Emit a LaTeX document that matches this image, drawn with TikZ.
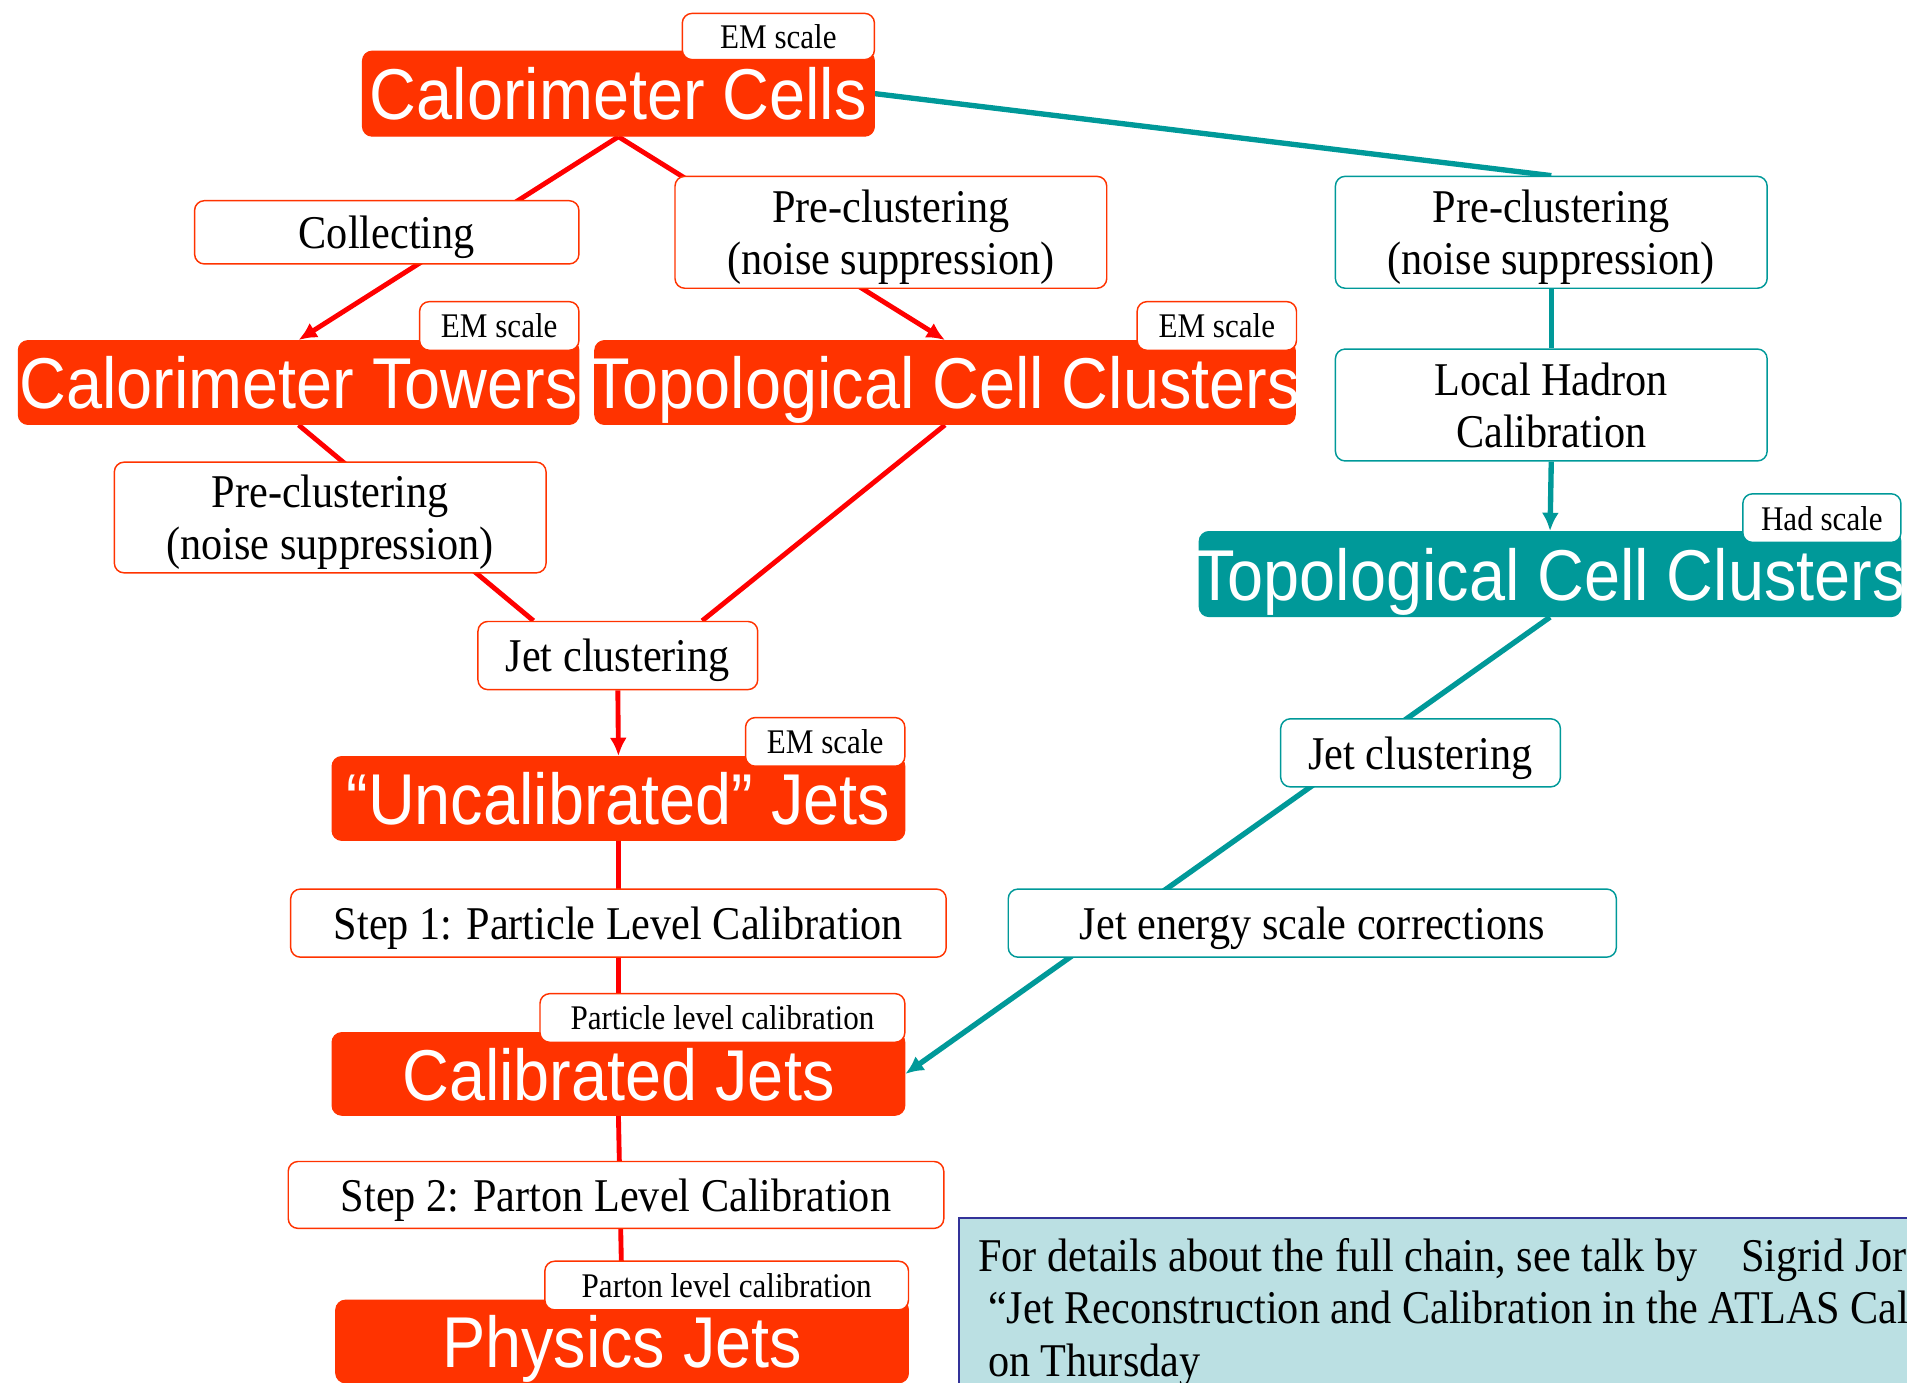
\documentclass[tikz,border=0pt]{standalone}
\usepackage{fontspec}
\setmainfont[FakeStretch=0.9]{Liberation Serif}
\newfontfamily\headfont[FakeStretch=0.9]{Liberation Sans}
\usetikzlibrary{arrows.meta}
\usetikzlibrary{calc}
\pgfdeclarelayer{background}
\pgfsetlayers{background,main}

\definecolor{boxred}{RGB}{255,51,0}
\definecolor{linered}{RGB}{255,0,0}
\definecolor{hadteal}{RGB}{0,153,153}
\definecolor{notefill}{RGB}{187,224,227}
\definecolor{noteline}{RGB}{51,51,153}

\tikzset{
  bigbox/.style={fill=boxred, draw=boxred, rounded corners=4pt, text=white, inner sep=0pt, text height=21.5pt, text depth=0pt, font=\headfont\fontsize{29.6}{32}\selectfont},
  tealbig/.style={bigbox, fill=hadteal, draw=hadteal},
  stepbox/.style={draw=boxred, fill=white, line width=0.6pt, rounded corners=4pt, inner sep=0pt, text depth=0pt, align=center, font=\fontsize{19.3}{21.5}\selectfont},
  tealstep/.style={stepbox, draw=hadteal},
  tagbox/.style={stepbox, minimum height=20pt, font=\fontsize{14.2}{16}\selectfont},
  tealtag/.style={tagbox, draw=hadteal},
  redline/.style={draw=linered, line width=2pt},
  redarrow/.style={redline, -{Latex[length=7.5pt,width=7pt]}},
  tealline/.style={draw=hadteal, line width=2.2pt},
  tealarrow/.style={tealline, -{Latex[length=7.5pt,width=7pt]}},
  notebox/.style={fill=notefill, draw=noteline, line width=0.8pt},
}

\begin{document}
\begin{tikzpicture}[x=0.5pt,y=0.5pt,yscale=-1,xscale=1]
\useasboundingbox (0,0) rectangle (1568,1137);

% left chain (EM scale)
\node[bigbox, minimum width=210.5pt, minimum height=35pt] (cells) at (508.5,77) {Calorimeter Cells};
\node[tagbox, minimum width=79pt, minimum height=19pt] (emCells) at (640,30) {EM scale};

\node[stepbox, minimum width=158pt, minimum height=26pt] (collect) at (318,191) {Collecting};
\node[stepbox, minimum width=177.5pt, minimum height=46pt] (preTopo) at (732.5,191) {Pre-clustering\\(noise suppression)};

\node[bigbox, minimum width=230.5pt, minimum height=34.5pt] (towers) at (245.5,314.5) {Calorimeter Towers};
\node[tagbox, minimum width=65.5pt] (emTowers) at (410.5,268) {EM scale};
\node[bigbox, inner xsep=-2.5pt, minimum width=288pt, minimum height=34.5pt] (topo) at (777,314.5) {Topological Cell Clusters};
\node[tagbox, minimum width=65.5pt] (emTopo) at (1000.5,268) {EM scale};

\node[stepbox, minimum width=177.5pt, minimum height=45.5pt] (preTowers) at (271.5,425.5) {Pre-clustering\\(noise suppression)};
\node[stepbox, minimum width=115pt, minimum height=28pt] (jetRed) at (508,539) {Jet clustering};

\node[bigbox, minimum width=235.5pt, minimum height=34.5pt] (uncal) at (508.5,656.5) {“Uncalibrated” Jets};
\node[tagbox, minimum width=65.5pt] (emUncal) at (678.5,610) {EM scale};
\node[stepbox, minimum width=269.5pt, minimum height=28pt] (step1) at (508.5,759) {Step 1: Particle Level Calibration};

\node[bigbox, minimum width=235.5pt, minimum height=34pt] (calib) at (508.5,883) {Calibrated Jets};
\node[tagbox, minimum width=150pt] (tagCalib) at (594,837) {Particle level calibration};
\node[stepbox, minimum width=269.5pt, minimum height=27.5pt] (step2) at (506.5,982.5) {Step 2: Parton Level Calibration};

\node[bigbox, minimum width=235.5pt, minimum height=34pt] (phys) at (511.5,1103) {Physics Jets};
\node[tagbox, minimum width=149.5pt] (tagPhys) at (597.5,1057) {Parton level calibration};

% right chain (Had scale)
\node[tealstep, minimum width=177.5pt, minimum height=46pt] (preTeal) at (1275.5,191) {Pre-clustering\\(noise suppression)};
\node[tealstep, minimum width=177.5pt, minimum height=46pt] (lhc) at (1275.5,333) {Local Hadron\\Calibration};
\node[tealbig, inner xsep=-2.5pt, minimum width=288.5pt, minimum height=35pt] (topoTeal) at (1274.5,472) {Topological Cell Clusters};
\node[tealtag, minimum width=65pt] (hadTag) at (1498,426) {Had scale};
\node[tealstep, minimum width=115pt, minimum height=28pt] (jetTeal) at (1168,619) {Jet clustering};
\node[tealstep, minimum width=250pt, minimum height=28pt] (jes) at (1079,759) {Jet energy scale corrections};

% note
\node[notebox, anchor=north west, minimum width=410pt, minimum height=90pt] (note) at (788,1001) {};
\node[anchor=north west, align=left, inner sep=0pt, font=\fontsize{19.3}{21.5}\selectfont] (noteText) at (804,1018)
  {For details about the full chain, see talk by\hspace{18pt}Sigrid Jor\\
   \hspace{4pt}“Jet Reconstruction and Calibration in the ATLAS Cal\\
   \hspace{4pt}on Thursday};

% connectors
\begin{pgfonlayer}{background}
\draw[redarrow] (cells.south) -- (towers.north);
\draw[redarrow] (cells.south) -- (topo.north);
\draw[redline] (towers.south) -- ($(jetRed.north west)!0.2!(jetRed.north east)$);
\draw[redline] (topo.south) -- ($(jetRed.north west)!0.8!(jetRed.north east)$);
\draw[redarrow] (jetRed.south) -- (uncal.north);
\draw[redline] (uncal.south) -- (calib.north);
\draw[redline] (calib.south) -- (phys.north);
\draw[tealline] (cells.east) -- (preTeal.north);
\draw[tealline] (preTeal.south) -- (lhc.north);
\draw[tealarrow] (lhc.south) -- (topoTeal.north);
\draw[tealarrow] (topoTeal.south) -- (calib.east);
\end{pgfonlayer}

\end{tikzpicture}
\end{document}
